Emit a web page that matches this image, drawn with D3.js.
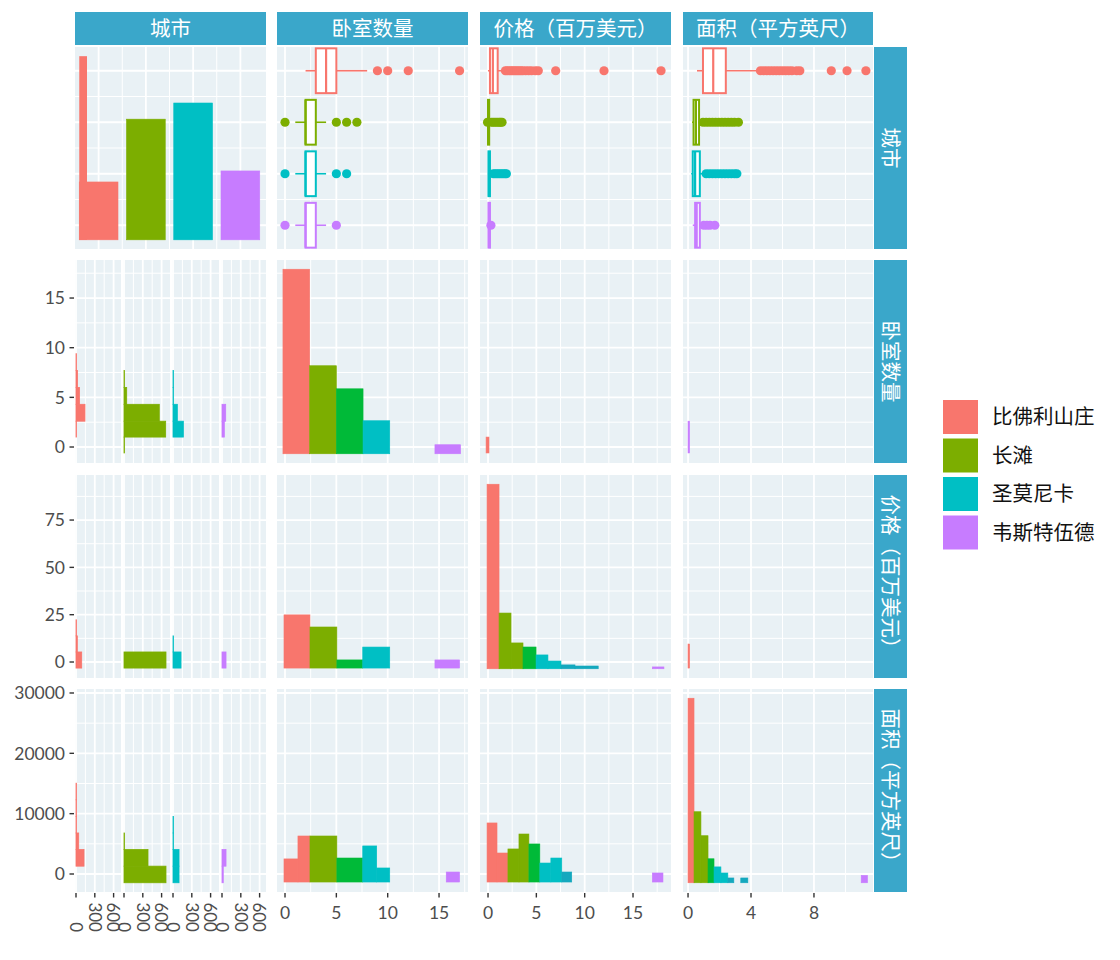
<!DOCTYPE html>
<html><head><meta charset="utf-8">
<script src="https://cdn.jsdelivr.net/npm/d3@7"></script>
<style>body{margin:0;background:#fff}</style>
</head><body>
<svg id="c" width="1120" height="960"></svg>
<script>
// ---------------- DATA ----------------
const cities = ["比佛利山庄", "长滩", "圣莫尼卡", "韦斯特伍德"];
const varLabels = ["城市", "卧室数量", "价格（百万美元）", "面积（平方英尺）"];

const bedTicks = [0, 5, 10, 15];
const priceXTicks = [0, 5, 10, 15];
const areaXTicks = [0, 4, 8];
const priceYTicks = [0, 25, 50, 75];
const areaYTicks = [0, 10000, 20000, 30000];
const countTicks = [0, 300, 600];

// [1,1] city bar chart counts (first bar has a narrow tall spike)
const cityCounts = [315, 657, 745, 375];
const citySpike = [1000, 0, 0, 0];

// Row 1 boxplots per city
const bedBox = [
  {lo: 2, q1: 3, med: 4, q3: 5, hi: 8, out: [9, 10, 12, 17]},
  {lo: 1, q1: 2, med: 2, q3: 3, hi: 4, out: [0, 5, 6, 7]},
  {lo: 1, q1: 2, med: 2, q3: 3, hi: 4, out: [0, 5, 6]},
  {lo: 1, q1: 2, med: 2, q3: 3, hi: 4, out: [0, 5]}
];
const priceBox = [
  {lo: 0, q1: 0.2, med: 0.5, q3: 1.0, hi: 1.75, out: [1.8, 2.0, 2.2, 2.4, 2.6, 2.8, 3.0, 3.2, 3.4, 3.6, 3.9, 4.2, 4.5, 4.9, 5.2, 7.0, 12.0, 17.9]},
  {lo: 0, q1: 0.0, med: 0.05, q3: 0.12, hi: 0.3, out: [-0.05, 0.35, 0.55, 0.75, 0.95, 1.15, 1.3, 1.45]},
  {lo: 0, q1: 0.05, med: 0.1, q3: 0.2, hi: 0.4, out: [0.55, 0.75, 0.95, 1.15, 1.35, 1.55, 1.75, 1.9]},
  {lo: 0, q1: 0.05, med: 0.1, q3: 0.2, hi: 0.3, out: [0.3]}
];
const areaBox = [
  {lo: 0.57, q1: 0.95, med: 1.6, q3: 2.4, hi: 4.5, out: [4.6, 4.8, 5.0, 5.2, 5.4, 5.6, 5.8, 6.0, 6.2, 6.4, 6.6, 6.9, 7.1, 9.1, 10.1, 11.3]},
  {lo: 0.25, q1: 0.35, med: 0.5, q3: 0.7, hi: 0.85, out: [0.95, 1.15, 1.35, 1.55, 1.75, 1.95, 2.15, 2.35, 2.55, 2.75, 2.95, 3.2]},
  {lo: 0.2, q1: 0.3, med: 0.45, q3: 0.75, hi: 1.0, out: [1.15, 1.35, 1.55, 1.75, 1.95, 2.15, 2.35, 2.55, 2.75, 2.95, 3.1]},
  {lo: 0.3, q1: 0.45, med: 0.55, q3: 0.75, hi: 0.9, out: [1.0, 1.2, 1.4, 1.7]}
];

// Column 1 facet histograms (horizontal), counts per city per bin
const bedHistEdges = [-0.6, 1.0, 2.6, 4.3, 6.0, 7.7, 9.4];
const bedHistCounts = [
  [0, 5, 143, 55, 25, 5],
  [5, 665, 563, 43, 5, 0],
  [0, 165, 69, 5, 5, 0],
  [0, 37, 59, 0, 0, 0]
];
const priceHistEdges = [-3.2, 5.3, 13.8, 22.3];
const priceHistCounts = [
  [91, 21, 5],
  [670, 0, 0],
  [128, 5, 0],
  [64, 0, 0]
];
const areaHistEdges = [-1450, 1300, 4050, 6800, 9550, 12300, 15050];
const areaHistCounts = [
  [0, 128, 43, 5, 5, 3],
  [670, 383, 5, 0, 0, 0],
  [96, 96, 3, 3, 0, 0],
  [20, 64, 0, 0, 0, 0]
];

// Diagonal histograms: x-range, count, colour key
const bedDiag = [
  {x0: -0.2, x1: 2.4, n: 1000, k: 0}, {x0: 2.4, x1: 5.0, n: 477, k: 1},
  {x0: 5.0, x1: 7.6, n: 352, k: 2}, {x0: 7.6, x1: 10.2, n: 179, k: 3},
  {x0: 14.6, x1: 17.1, n: 49, k: 5}
];
const priceDiag = [
  {x0: -0.1, x1: 1.14, n: 1000, k: 0}, {x0: 1.14, x1: 2.38, n: 302, k: 1},
  {x0: 2.38, x1: 3.62, n: 140, k: 1}, {x0: 3.62, x1: 4.97, n: 118, k: 2},
  {x0: 4.97, x1: 6.2, n: 75, k: 3}, {x0: 6.2, x1: 7.55, n: 42, k: 3},
  {x0: 7.55, x1: 9.0, n: 21, k: 4}, {x0: 9.0, x1: 11.4, n: 15, k: 4},
  {x0: 17.0, x1: 18.2, n: 10, k: 5}
];
const areaDiag = [
  {x0: 0, x1: 0.38, n: 1000, k: 0}, {x0: 0.38, x1: 0.82, n: 385, k: 1},
  {x0: 0.82, x1: 1.27, n: 255, k: 1}, {x0: 1.27, x1: 1.65, n: 130, k: 2},
  {x0: 1.65, x1: 2.09, n: 86, k: 3}, {x0: 2.09, x1: 2.53, n: 53, k: 3},
  {x0: 2.53, x1: 2.91, n: 26, k: 4}, {x0: 3.35, x1: 3.8, n: 26, k: 4},
  {x0: 11.0, x1: 11.4, n: 40, k: 5}
];

// Off-diagonal continuous panels (rectangles in data units)
const bedRowPriceCol = [{x0: -0.2, x1: 0.1, y0: -0.6, y1: 1.0, k: 0}];
const bedRowAreaCol = [{x0: 0.0, x1: 0.1, y0: -0.6, y1: 2.6, k: 5}];
const priceRowBedCol = [
  {x0: -0.1, x1: 2.43, y0: -3.2, y1: 24.9, k: 0},
  {x0: 2.43, x1: 5.05, y0: -3.2, y1: 18.5, k: 1},
  {x0: 5.05, x1: 7.57, y0: -3.2, y1: 1.1, k: 2},
  {x0: 7.57, x1: 10.2, y0: -3.2, y1: 7.9, k: 3},
  {x0: 14.6, x1: 17.0, y0: -3.2, y1: 1.1, k: 5}
];
const priceRowAreaCol = [{x0: 0.0, x1: 0.1, y0: -3.2, y1: 9.5, k: 0}];
const areaRowBedCol = [
  {x0: -0.1, x1: 1.26, y0: -1330, y1: 2500, k: 0},
  {x0: 1.26, x1: 2.43, y0: -1330, y1: 6300, k: 0},
  {x0: 2.43, x1: 5.05, y0: -1330, y1: 6300, k: 1},
  {x0: 5.05, x1: 7.57, y0: -1330, y1: 2650, k: 2},
  {x0: 7.57, x1: 8.93, y0: -1330, y1: 4650, k: 3},
  {x0: 8.93, x1: 10.2, y0: -1330, y1: 1000, k: 3},
  {x0: 15.7, x1: 17.0, y0: -1330, y1: 330, k: 5}
];
const areaRowPriceCol = [
  {x0: -0.1, x1: 0.93, y0: -1330, y1: 8460, k: 0},
  {x0: 0.93, x1: 2.06, y0: -1330, y1: 3480, k: 0},
  {x0: 2.06, x1: 3.2, y0: -1330, y1: 4150, k: 1},
  {x0: 3.2, x1: 4.23, y0: -1330, y1: 6630, k: 1},
  {x0: 4.23, x1: 5.36, y0: -1330, y1: 4980, k: 2},
  {x0: 5.36, x1: 6.5, y0: -1330, y1: 1820, k: 3},
  {x0: 6.5, x1: 7.63, y0: -1330, y1: 2650, k: 3},
  {x0: 7.63, x1: 8.66, y0: -1330, y1: 330, k: 4},
  {x0: 17.0, x1: 18.1, y0: -1330, y1: 170, k: 5}
];

// ---------------- STYLE / LAYOUT ----------------
const cityColors = ["#F8766D", "#7CAE00", "#00BFC4", "#C77CFF"];
const hueRamp = ["#F8766D", "#7CAE00", "#00BA38", "#00BFC4", "#14A8BE", "#C77CFF"];
const FONT = "Lato, 'Noto Sans CJK SC', sans-serif";
const PANEL_BG = "#E9F1F5", STRIP = "#3AA7CA", AXIS_TXT = "#4D4D4D";
const cols = [[75, 266], [277, 468], [480, 671], [683, 873]];
const rows = [[47, 249], [260, 463], [475, 678], [689, 892]];
const subs = [[75, 121], [123, 170], [172, 219], [221, 266]];

const svg = d3.select("#c");
const defs = svg.append("defs");
svg.append("rect").attr("width", 1120).attr("height", 960).attr("fill", "#fff");

// ---------------- SCALES ----------------
const xBed = d3.scaleLinear().domain([-0.78, 17.82]).range(cols[1]);
const xPrice = d3.scaleLinear().domain([-0.83, 18.93]).range(cols[2]);
const xArea = d3.scaleLinear().domain([-0.32, 11.75]).range(cols[3]);
const yBed = d3.scaleLinear().domain([-1.61, 18.83]).range([rows[1][1], rows[1][0]]);
const yPrice = d3.scaleLinear().domain([-8.45, 98.8]).range([rows[2][1], rows[2][0]]);
const yArea = d3.scaleLinear().domain([-2983, 30662]).range([rows[3][1], rows[3][0]]);
const xCat = d3.scalePoint().domain(cities).range([75, 264]).padding(0.5);
const yCat = d3.scalePoint().domain(cities).range([45, 251]).padding(0.5);
const colScales = [null, xBed, xPrice, xArea];
const rowScales = [null, yBed, yPrice, yArea];
const colMajors = [null, bedTicks, priceXTicks, areaXTicks];
const rowMajors = [null, bedTicks, priceYTicks, areaYTicks];
const diagScale = r => d3.scaleLinear().domain([-50, 1050]).range([rows[r][1], rows[r][0]]);
const subScale = s => d3.scaleLinear().domain([0, 300]).range([subs[s][0] + 1, subs[s][0] + 19.8]);

function minorsOf(majors, scale) {
  const step = majors[1] - majors[0];
  const [a, b] = d3.extent(scale.domain());
  const out = [];
  for (let v = majors[0] - step / 2; v <= b; v += step) if (v >= a && !majors.includes(v)) out.push(v);
  return out;
}
function catMids(scale) {
  const c = cities.map(d => scale(d));
  return c.slice(1).map((v, i) => (v + c[i]) / 2);
}

let clipN = 0;
function panel(x0, x1, y0, y1) {
  const id = "cp" + (clipN++);
  defs.append("clipPath").attr("id", id).append("rect")
    .attr("x", x0).attr("y", y0).attr("width", x1 - x0).attr("height", y1 - y0);
  const g = svg.append("g").attr("clip-path", `url(#${id})`);
  g.append("rect").attr("x", x0).attr("y", y0).attr("width", x1 - x0).attr("height", y1 - y0).attr("fill", PANEL_BG);
  return g;
}
function vLines(g, pos, y0, y1, w) {
  g.selectAll(null).data(pos).enter().append("line")
    .attr("x1", d => d).attr("x2", d => d).attr("y1", y0).attr("y2", y1)
    .attr("stroke", "#fff").attr("stroke-width", w);
}
function hLines(g, pos, x0, x1, w) {
  g.selectAll(null).data(pos).enter().append("line")
    .attr("y1", d => d).attr("y2", d => d).attr("x1", x0).attr("x2", x1)
    .attr("stroke", "#fff").attr("stroke-width", w);
}
function rowGrid(g, r, x0, x1) {
  if (r === 0) {
    hLines(g, catMids(yCat), x0, x1, 1.0);
    hLines(g, cities.map(d => yCat(d)), x0, x1, 1.8);
  } else {
    const s = rowScales[r];
    hLines(g, minorsOf(rowMajors[r], s).map(s), x0, x1, 1.0);
    hLines(g, rowMajors[r].map(s), x0, x1, 1.8);
  }
}
function colGrid(g, c, y0, y1) {
  const s = colScales[c];
  vLines(g, minorsOf(colMajors[c], s).map(s), y0, y1, 1.0);
  vLines(g, colMajors[c].map(s), y0, y1, 1.8);
}

function drawRects(g, list, xs, ys) {
  g.selectAll(null).data(list).enter().append("rect")
    .attr("x", d => xs(d.x0)).attr("width", d => Math.max(0.6, xs(d.x1) - xs(d.x0)))
    .attr("y", d => ys(d.y1)).attr("height", d => ys(d.y0) - ys(d.y1))
    .attr("fill", d => hueRamp[d.k]).attr("stroke", d => hueRamp[d.k]).attr("stroke-width", 0.6);
}
function drawDiag(g, list, xs, r) {
  const ys = diagScale(r);
  g.selectAll(null).data(list).enter().append("rect")
    .attr("x", d => xs(d.x0)).attr("width", d => xs(d.x1) - xs(d.x0))
    .attr("y", d => ys(d.n)).attr("height", d => ys(0) - ys(d.n))
    .attr("fill", d => hueRamp[d.k]).attr("stroke", d => hueRamp[d.k]).attr("stroke-width", 0.6);
}
function drawBoxes(g, boxes, xs) {
  const hh = yCat.step() * 0.435;
  boxes.forEach((b, i) => {
    const col = cityColors[i], cy = yCat(cities[i]);
    g.append("line").attr("x1", xs(b.lo)).attr("x2", xs(b.q1)).attr("y1", cy).attr("y2", cy).attr("stroke", col).attr("stroke-width", 1.6);
    g.append("line").attr("x1", xs(b.q3)).attr("x2", xs(b.hi)).attr("y1", cy).attr("y2", cy).attr("stroke", col).attr("stroke-width", 1.6);
    g.append("rect").attr("x", xs(b.q1)).attr("width", Math.max(0, xs(b.q3) - xs(b.q1)))
      .attr("y", cy - hh).attr("height", 2 * hh).attr("fill", "#fff").attr("stroke", col).attr("stroke-width", 2);
    g.append("line").attr("x1", xs(b.med)).attr("x2", xs(b.med)).attr("y1", cy - hh).attr("y2", cy + hh).attr("stroke", col).attr("stroke-width", 2.2);
    g.selectAll(null).data(b.out).enter().append("circle")
      .attr("cx", d => xs(d)).attr("cy", cy).attr("r", 4.6).attr("fill", col);
  });
}
function drawFacetHist(r, edges, counts, ys) {
  const [y0, y1] = [rows[r][0], rows[r][1]];
  subs.forEach((s, si) => {
    const g = panel(s[0], s[1], y0, y1);
    const cs = subScale(si);
    const maxC = cs.invert(s[1]);
    vLines(g, [150, 450, 750].filter(v => v < maxC).map(cs), y0, y1, 1.0);
    vLines(g, countTicks.filter(v => v < maxC).map(cs), y0, y1, 1.8);
    rowGrid(g, r, s[0], s[1]);
    const bins = counts[si].map((n, i) => ({n, lo: edges[i], hi: edges[i + 1]})).filter(d => d.n > 0);
    const col = cityColors[si];
    g.selectAll(null).data(bins).enter().append("rect")
      .attr("x", cs(0)).attr("width", d => Math.max(0.5, cs(d.n) - cs(0)))
      .attr("y", d => ys(d.hi)).attr("height", d => ys(d.lo) - ys(d.hi))
      .attr("fill", col).attr("stroke", col).attr("stroke-width", 0.8);
  });
}

// ---------------- ROW 1 ----------------
{
  const [y0, y1] = rows[0];
  const g = panel(cols[0][0], cols[0][1], y0, y1);
  vLines(g, catMids(xCat), y0, y1, 1.0);
  vLines(g, cities.map(d => xCat(d)), y0, y1, 1.8);
  rowGrid(g, 0, cols[0][0], cols[0][1]);
  const ys = diagScale(0), bw = xCat.step() * 0.82;
  g.selectAll(null).data(cities).enter().append("rect")
    .attr("x", d => xCat(d) - bw / 2).attr("width", bw)
    .attr("y", (d, i) => ys(cityCounts[i])).attr("height", (d, i) => ys(0) - ys(cityCounts[i]))
    .attr("fill", (d, i) => cityColors[i]).attr("stroke", (d, i) => cityColors[i]).attr("stroke-width", 0.6);
  g.selectAll(null).data(cities.filter((d, i) => citySpike[i] > 0)).enter().append("rect")
    .attr("x", d => xCat(d) - bw / 2).attr("width", bw * 0.2)
    .attr("y", d => ys(citySpike[cities.indexOf(d)]))
    .attr("height", d => ys(0) - ys(citySpike[cities.indexOf(d)]))
    .attr("fill", (d) => cityColors[cities.indexOf(d)]);
  [bedBox, priceBox, areaBox].forEach((bx, j) => {
    const c = j + 1;
    const gg = panel(cols[c][0], cols[c][1], y0, y1);
    colGrid(gg, c, y0, y1);
    rowGrid(gg, 0, cols[c][0], cols[c][1]);
    drawBoxes(gg, bx, colScales[c]);
  });
}

// ---------------- ROWS 2-4 ----------------
drawFacetHist(1, bedHistEdges, bedHistCounts, yBed);
drawFacetHist(2, priceHistEdges, priceHistCounts, yPrice);
drawFacetHist(3, areaHistEdges, areaHistCounts, yArea);

const cellContent = {
  "1-1": g => drawDiag(g, bedDiag, xBed, 1),
  "1-2": g => drawRects(g, bedRowPriceCol, xPrice, yBed),
  "1-3": g => drawRects(g, bedRowAreaCol, xArea, yBed),
  "2-1": g => drawRects(g, priceRowBedCol, xBed, yPrice),
  "2-2": g => drawDiag(g, priceDiag, xPrice, 2),
  "2-3": g => drawRects(g, priceRowAreaCol, xArea, yPrice),
  "3-1": g => drawRects(g, areaRowBedCol, xBed, yArea),
  "3-2": g => drawRects(g, areaRowPriceCol, xPrice, yArea),
  "3-3": g => drawDiag(g, areaDiag, xArea, 3)
};
for (let r = 1; r <= 3; r++) {
  for (let c = 1; c <= 3; c++) {
    const g = panel(cols[c][0], cols[c][1], rows[r][0], rows[r][1]);
    colGrid(g, c, rows[r][0], rows[r][1]);
    rowGrid(g, r, cols[c][0], cols[c][1]);
    cellContent[r + "-" + c](g);
  }
}

// ---------------- AXES ----------------
const ax = svg.append("g").attr("font-family", FONT);
for (let r = 1; r <= 3; r++) {
  const s = rowScales[r];
  rowMajors[r].forEach(v => {
    ax.append("line").attr("x1", 69.5).attr("x2", 74).attr("y1", s(v)).attr("y2", s(v)).attr("stroke", "#333").attr("stroke-width", 1.4);
    ax.append("text").attr("x", 65).attr("y", s(v)).attr("dy", "0.36em").attr("text-anchor", "end")
      .attr("font-size", 17.5).attr("fill", AXIS_TXT).text(v);
  });
}
const yb = rows[3][1];
for (let c = 1; c <= 3; c++) {
  const s = colScales[c];
  colMajors[c].forEach(v => {
    ax.append("line").attr("x1", s(v)).attr("x2", s(v)).attr("y1", yb + 1).attr("y2", yb + 5.5).attr("stroke", "#333").attr("stroke-width", 1.4);
    ax.append("text").attr("x", s(v)).attr("y", yb + 27).attr("text-anchor", "middle")
      .attr("font-size", 17.5).attr("fill", AXIS_TXT).text(v);
  });
}
subs.forEach((sb, si) => {
  const cs = subScale(si);
  countTicks.forEach(v => {
    const x = cs(v);
    ax.append("line").attr("x1", x).attr("x2", x).attr("y1", yb + 1).attr("y2", yb + 5.5).attr("stroke", "#333").attr("stroke-width", 1.4);
    ax.append("text").attr("x", x).attr("y", 932).attr("dy", "0.36em").attr("text-anchor", "end")
      .attr("transform", `rotate(90,${x},932)`)
      .attr("font-size", 17).attr("fill", AXIS_TXT).text(v);
  });
});

// ---------------- STRIPS ----------------
const st = svg.append("g").attr("font-family", FONT);
cols.forEach((c, i) => {
  st.append("rect").attr("x", c[0]).attr("y", 12).attr("width", c[1] - c[0]).attr("height", 33).attr("fill", STRIP);
  st.append("text").attr("x", (c[0] + c[1]) / 2).attr("y", 29).attr("dy", "0.36em").attr("text-anchor", "middle")
    .attr("font-size", 20.5).attr("fill", "#fff").text(varLabels[i]);
});
rows.forEach((r, i) => {
  st.append("rect").attr("x", 874).attr("y", r[0]).attr("width", 33).attr("height", r[1] - r[0]).attr("fill", STRIP);
  const cx = 890.5, cy = (r[0] + r[1]) / 2;
  st.append("text").attr("x", cx).attr("y", cy).attr("dy", "0.36em").attr("text-anchor", "middle")
    .attr("transform", `rotate(90,${cx},${cy})`)
    .attr("font-size", 20.5).attr("fill", "#fff").text(varLabels[i]);
});

// ---------------- LEGEND ----------------
const lg = svg.append("g").attr("font-family", FONT);
cities.forEach((d, i) => {
  const y = 400 + i * 38.5;
  lg.append("rect").attr("x", 943).attr("y", y).attr("width", 35).attr("height", 34).attr("fill", cityColors[i]);
  lg.append("text").attr("x", 992).attr("y", y + 17).attr("dy", "0.36em").attr("font-size", 20.5).attr("fill", "#111").text(d);
});
</script>
</body></html>
